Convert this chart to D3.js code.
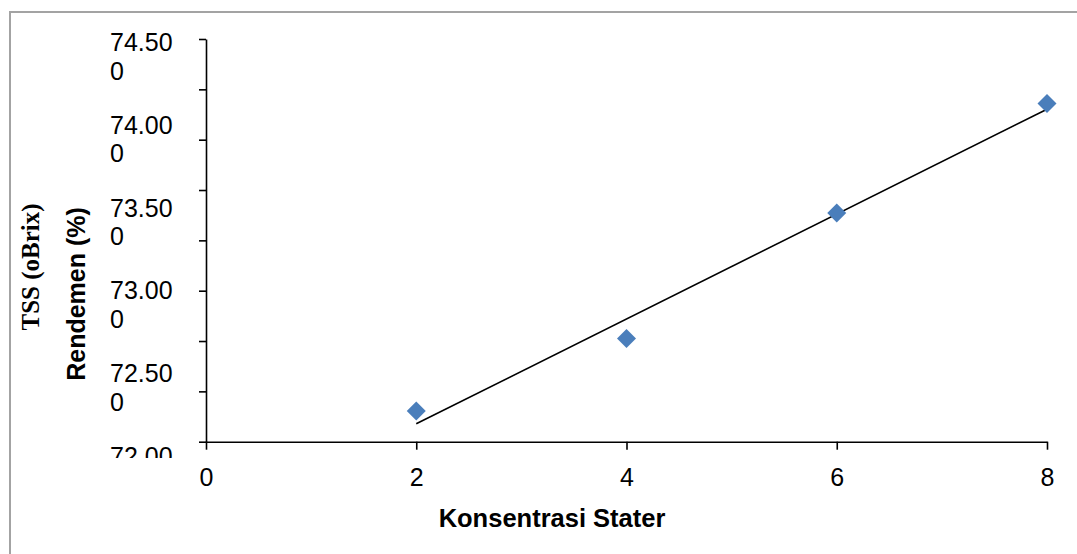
<!DOCTYPE html>
<html>
<head>
<meta charset="utf-8">
<script src="https://cdn.jsdelivr.net/npm/d3@7"></script>
<style>
  body { margin: 0; background: #fff; }
  svg text { font-family: "Liberation Sans", Arial, sans-serif; fill: #000; }
</style>
</head>
<body>
<script>
// data
var konsentrasi = [2, 4, 6, 8];
var rendemen = [72.19, 72.64, 73.42, 74.10];
var xTicks = [0, 2, 4, 6, 8];
var yLabelValues = [72.0, 72.5, 73.0, 73.5, 74.0, 74.5];
var yLabelText = ["72.000", "72.500", "73.000", "73.500", "74.000", "74.500"];
var yTickCount = 8; // tick marks on the y axis (intervals)

var W = 1077, H = 554;
var svg = d3.select("body").append("svg")
    .attr("width", W)
    .attr("height", H);

// chart frame
svg.append("rect")
    .attr("x", 10).attr("y", 12)
    .attr("width", W + 20).attr("height", H + 20)
    .attr("fill", "#fff")
    .attr("stroke", "#a3a3a3")
    .attr("stroke-width", 2);

var x = d3.scaleLinear().domain([0, 8]).range([206, 1047]);
var y = d3.scaleLinear().domain([72, 74.5]).range([441.7, 39]);
// tick labels sit on their own spacing in the original
var yLab = d3.scaleLinear().domain([72, 74.5]).range([465, 51]);

var yTickVals = d3.range(yTickCount + 1).map(function(i) {
    return 72 + i * (74.5 - 72) / yTickCount;
});

// y axis
var gy = svg.append("g")
    .attr("transform", "translate(" + x(0) + ",0)")
    .call(d3.axisLeft(y).tickValues(yTickVals).tickFormat("").tickSize(7).tickSizeOuter(0));
gy.select(".domain").attr("stroke", "#000").attr("stroke-width", 1.6);
gy.selectAll(".tick line").attr("stroke", "#000").attr("stroke-width", 1.6);

// x axis
var gx = svg.append("g")
    .attr("transform", "translate(0," + y(72) + ")")
    .call(d3.axisBottom(x).tickValues(xTicks).tickSize(8).tickSizeOuter(0).tickPadding(19));
gx.select(".domain").attr("stroke", "#000").attr("stroke-width", 1.6);
gx.selectAll(".tick line").attr("stroke", "#000").attr("stroke-width", 1.6);
gx.selectAll(".tick text")
    .style("font-family", "'Liberation Sans', Arial, sans-serif")
    .style("font-size", "25px")
    .attr("fill", "#000");

// y tick labels (wrapped like the original)
svg.append("clipPath").attr("id", "labClip")
    .append("rect").attr("x", 0).attr("y", 0).attr("width", 200).attr("height", 458);

var labs = svg.append("g").attr("clip-path", "url(#labClip)")
    .selectAll("text.ylab")
    .data(yLabelValues)
    .enter().append("text")
    .attr("class", "ylab")
    .attr("x", 110)
    .attr("y", function(d) { return yLab(d); })
    .style("font-size", "25px");
labs.append("tspan")
    .attr("x", 110)
    .text(function(d, i) { return yLabelText[i].slice(0, 5); });
labs.append("tspan")
    .attr("x", 110)
    .attr("dy", 28.5)
    .text(function(d, i) { return yLabelText[i].slice(5); });

// linear trendline (least squares on the points)
var mx = d3.mean(konsentrasi), my = d3.mean(rendemen);
var sxy = d3.sum(konsentrasi, function(v, i) { return (v - mx) * (rendemen[i] - my); });
var sxx = d3.sum(konsentrasi, function(v) { return (v - mx) * (v - mx); });
var slope = sxy / sxx, icpt = my - slope * mx;
var xs = d3.extent(konsentrasi);
svg.append("line")
    .attr("x1", x(xs[0])).attr("y1", y(icpt + slope * xs[0]))
    .attr("x2", x(xs[1])).attr("y2", y(icpt + slope * xs[1]))
    .attr("stroke", "#000")
    .attr("stroke-width", 1.6);

// points
svg.selectAll("path.pt")
    .data(konsentrasi)
    .enter().append("path")
    .attr("class", "pt")
    .attr("d", d3.symbol().type(d3.symbolSquare).size(180))
    .attr("transform", function(d, i) {
        return "translate(" + x(d) + "," + y(rendemen[i]) + ") rotate(45)";
    })
    .attr("fill", "#4a7ebb");

// axis titles
svg.append("text")
    .attr("x", 552).attr("y", 527)
    .attr("text-anchor", "middle")
    .style("font-size", "25.5px")
    .style("font-weight", "bold")
    .text("Konsentrasi Stater");

svg.append("text")
    .attr("transform", "translate(85,294) rotate(-90)")
    .attr("text-anchor", "middle")
    .style("font-size", "25px")
    .style("font-weight", "bold")
    .text("Rendemen (%)");

svg.append("text")
    .attr("transform", "translate(39,267) rotate(-90)")
    .attr("text-anchor", "middle")
    .style("font-family", "'Liberation Serif', 'Times New Roman', serif")
    .style("font-size", "25px")
    .style("font-weight", "bold")
    .text("TSS (oBrix)");
</script>
</body>
</html>
